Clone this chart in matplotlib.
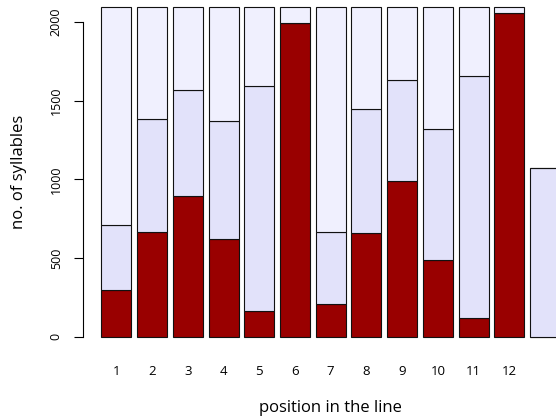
import numpy as np
import matplotlib
matplotlib.use("Agg")
import matplotlib.pyplot as plt

plt.rcParams['font.family'] = ['Open Sans', 'DejaVu Sans']

# syllables per position
positions = ['1', '2', '3', '4', '5', '6', '7', '8', '9', '10', '11', '12', '']
dark = [297, 663, 892, 621, 161, 1991, 208, 659, 987, 485, 117, 2057, 0]
mid_top = [710, 1383, 1565, 1373, 1595, 1991, 663, 1447, 1629, 1320, 1656, 2057, 1072]
total = [2093, 2093, 2093, 2093, 2093, 2093, 2093, 2093, 2093, 2093, 2093, 2093, 1072]

dark = np.array(dark)
mid = np.array(mid_top) - dark
top = np.array(total) - np.array(mid_top)
x = np.arange(1, len(positions) + 1)

fig = plt.figure(figsize=(5.56, 4.18), dpi=100)
ax = fig.add_axes([83/556, 78/418, 473/556, 340/418])

w = 0.84
kw = dict(width=w, edgecolor='#111111', linewidth=0.8)
ax.bar(x, dark, color='#990000', **kw)
ax.bar(x, mid, bottom=dark, color='#E2E2FA', **kw)
ax.bar(x, top, bottom=dark + mid, color='#F0F0FE', **kw)

ax.set_xlim(0.064, 13.31)
ax.set_ylim(-21, 2139)

for s in ['top', 'right', 'bottom']:
    ax.spines[s].set_visible(False)
ax.spines['left'].set_bounds(0, 2000)
ax.spines['left'].set_linewidth(0.8)

ax.set_yticks([0, 500, 1000, 1500, 2000])
ax.tick_params(axis='y', length=6.5, width=0.8, pad=8, labelsize=9)
for lab in ax.get_yticklabels():
    lab.set_rotation(90)
    lab.set_va('center')

ax.set_xticks(x)
ax.set_xticklabels(positions)
ax.tick_params(axis='x', length=0, pad=18, labelsize=9.5)

fig.text(19/556, 1 - 172/418, 'no. of syllables', rotation=90,
         ha='center', va='center', fontsize=12)
fig.text(330/556, 1 - 408/418, 'position in the line',
         ha='center', va='center', fontsize=12)

fig.savefig('out.png', dpi=100)
